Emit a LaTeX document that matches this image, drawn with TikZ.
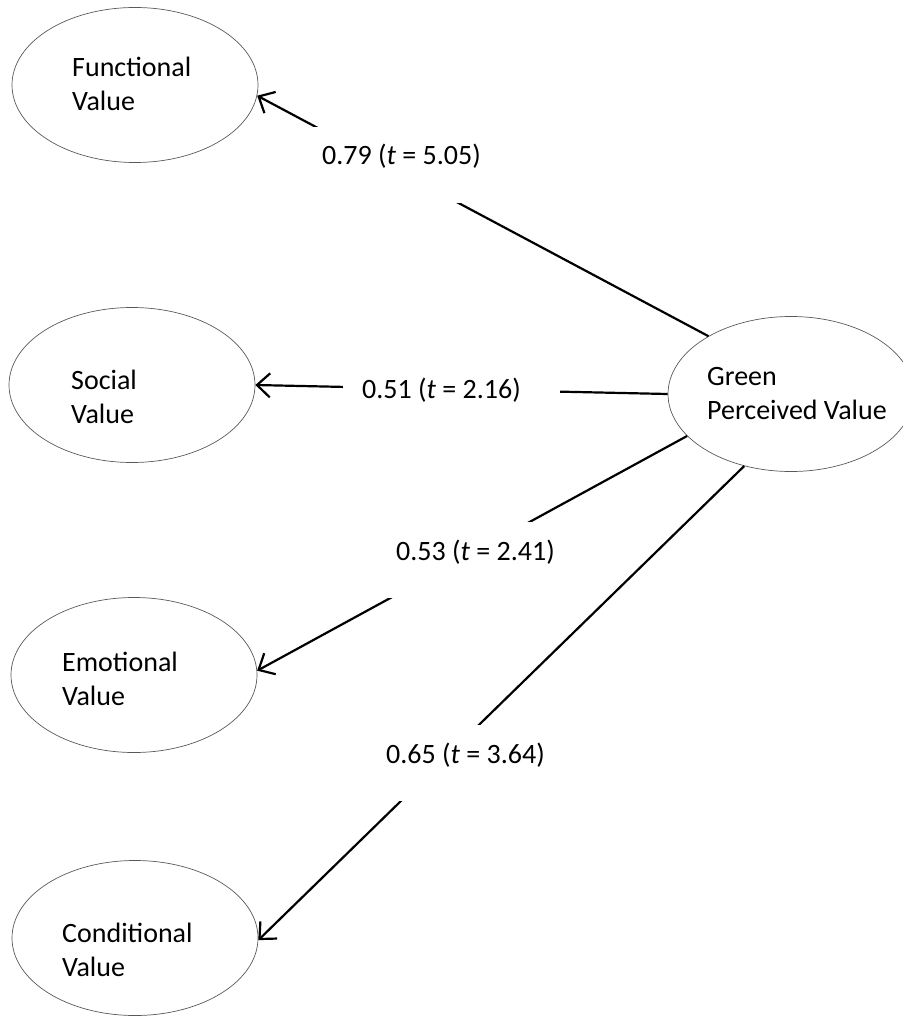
\documentclass[tikz,border=0pt]{standalone}
\usepackage{fontspec}
\setmainfont{Carlito}
\usetikzlibrary{arrows.meta,shapes.geometric}
\begin{document}
\begin{tikzpicture}[x=1pt,y=-1pt,
  latent/.style={draw=black!65, line width=0.7pt, ellipse, minimum width=246pt, minimum height=155pt, inner sep=0pt},
  vtext/.style={anchor=base west, align=left, inner sep=0pt, font=\fontsize{28}{34}\selectfont},
  coef/.style={anchor=base west, fill=white, inner sep=0pt, text height=38pt, text depth=38pt, font=\fontsize{28}{34}\selectfont},
  link/.style={line width=2.2pt, -{Straight Barb[length=13pt,width=24pt,line width=2.2pt]}}]
\useasboundingbox (0,0) rectangle (902,1016);
\node[latent] (f) at (135,85) {};
\node[latent] (s) at (132,385) {};
\node[latent] (e) at (134,675) {};
\node[latent] (c) at (135,938) {};
\node[latent] (g) at (791,394) {};
\node[vtext] (ft) at (72,111) {Functional\\Value};
\node[vtext] (st) at (71,423) {Social\\Value};
\node[vtext] (et) at (62,705) {Emotional\\Value};
\node[vtext] (ct) at (62,976) {Conditional\\Value};
\node[vtext] (gt) at (707,419) {Green\\Perceived Value};
\draw[link] (g.145) -- (f.-5);
\draw[link] (g.180) -- (s.0);
\draw[link] (g.202) -- (e.2);
\draw[link] (g.237) -- (c.-1);
\node[coef] (l1) at (303,165) {\hspace*{19pt}0.79 (\textit{t} = 5.05)\hspace*{39pt}};
\node[coef] (l2) at (343,398) {\hspace*{19pt}0.51 (\textit{t} = 2.16)\hspace*{39pt}};
\node[coef] (l3) at (377,560) {\hspace*{19pt}0.53 (\textit{t} = 2.41)\hspace*{39pt}};
\node[coef] (l4) at (367,763) {\hspace*{19pt}0.65 (\textit{t} = 3.64)\hspace*{39pt}};
\end{tikzpicture}
\end{document}
